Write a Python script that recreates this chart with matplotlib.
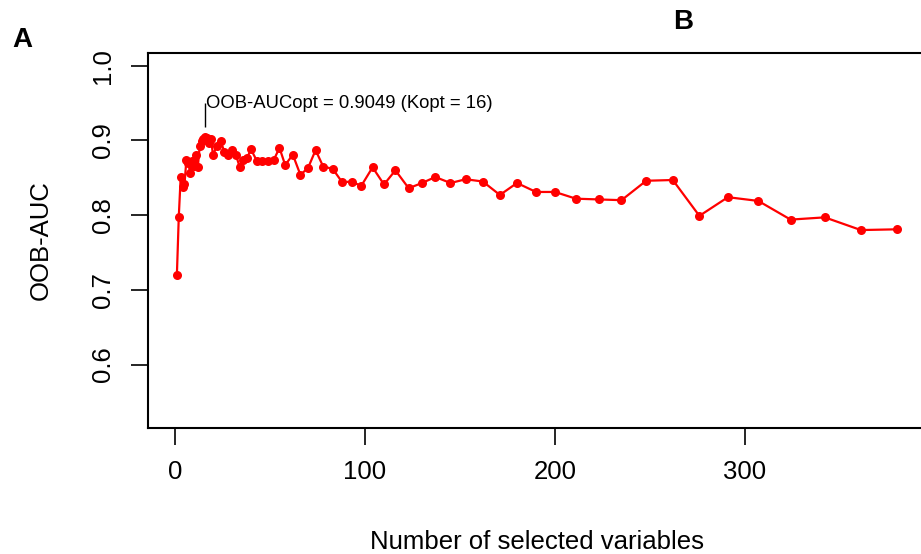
import matplotlib
matplotlib.use('Agg')
import matplotlib.pyplot as plt

plt.rcParams['font.family'] = ['Liberation Sans', 'DejaVu Sans']

# number of selected variables and the OOB-AUC
n_vars = [1, 2, 3, 4, 5, 6, 7, 8, 9, 10, 11, 12, 13, 14, 15, 16, 17, 18, 19, 20,
          22, 24, 26, 28, 30, 32, 34, 36, 38, 40, 43, 46, 49, 52, 55, 58, 62, 66,
          70, 74, 78, 83, 88, 93, 98, 104, 110, 116, 123, 130, 137, 145, 153, 162,
          171, 180, 190, 200, 211, 223, 235, 248, 262, 276, 291, 307, 324, 342,
          361, 380]
oob_auc = [0.720, 0.798, 0.851, 0.838, 0.841, 0.874, 0.870, 0.856, 0.872, 0.866,
           0.881, 0.864, 0.892, 0.899, 0.902, 0.9049, 0.903, 0.897, 0.902, 0.880,
           0.893, 0.899, 0.885, 0.881, 0.887, 0.881, 0.865, 0.874, 0.877, 0.888,
           0.873, 0.872, 0.873, 0.874, 0.890, 0.867, 0.881, 0.854, 0.863, 0.887,
           0.865, 0.862, 0.844, 0.845, 0.839, 0.864, 0.841, 0.860, 0.836, 0.843,
           0.851, 0.843, 0.848, 0.845, 0.827, 0.843, 0.831, 0.831, 0.822, 0.821,
           0.820, 0.846, 0.847, 0.799, 0.824, 0.819, 0.794, 0.797, 0.780, 0.781]
k_opt = 16
auc_opt = 0.9049

fig = plt.figure(figsize=(9.21, 5.54), dpi=100)
ax = fig.add_axes([0.1607, 0.2274, 0.8446, 0.6769])

ax.plot(n_vars, oob_auc, color='red', linewidth=1.6, marker='o',
        markersize=6.5, markeredgewidth=0)

# mark the optimum
ax.vlines(k_opt, 0.918, 0.950, color='black', linewidth=1)
ax.text(k_opt + 0.5, 0.949, f'OOB-AUCopt = {auc_opt} (Kopt = {k_opt})',
        fontsize=13.3, ha='left', va='center')

ax.set_xlim(-14.2, 395.2)
ax.set_ylim(0.515, 1.017)
ax.set_xticks([0, 100, 200, 300])
ax.set_yticks([0.6, 0.7, 0.8, 0.9, 1.0])
ax.set_yticklabels(['0.6', '0.7', '0.8', '0.9', '1.0'], rotation=90, va='center')

ax.tick_params(axis='both', labelsize=18.5, length=12, width=1.2)
ax.tick_params(axis='x', pad=11)
ax.tick_params(axis='y', pad=12)
for sp in ax.spines.values():
    sp.set_linewidth(1.5)

ax.set_xlabel('Number of selected variables', fontsize=18.5, labelpad=33)
ax.set_ylabel('OOB-AUC', fontsize=18.5, labelpad=27)

fig.text(22 / 921, 1 - 40 / 554, 'A', fontsize=20, fontweight='bold',
         ha='center', va='center')
fig.text(683 / 921, 1 - 22 / 554, 'B', fontsize=20, fontweight='bold',
         ha='center', va='center')

fig.savefig('out.png', dpi=100)
